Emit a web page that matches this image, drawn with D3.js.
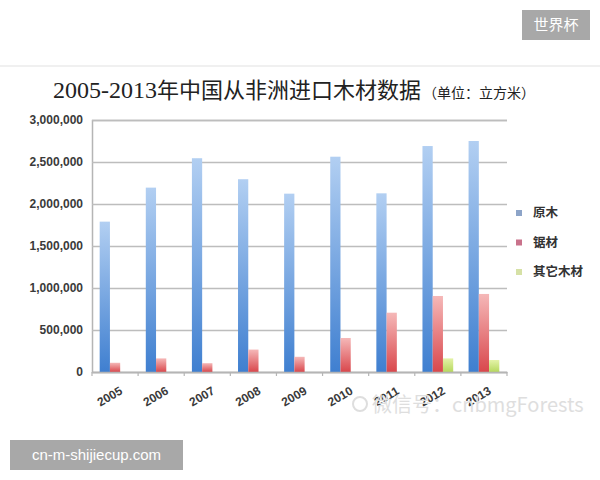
<!DOCTYPE html>
<html><head><meta charset="utf-8">
<script src="https://cdn.jsdelivr.net/npm/d3@7"></script>
<style>body{margin:0;background:#fff}svg{display:block}</style>
</head><body>
<svg id="c" width="600" height="480"></svg>
<script>
const years = ["2005","2006","2007","2008","2009","2010","2011","2012","2013"];
const seriesNames = ["原木","锯材","其它木材"];
const logs   = [1790000,2195000,2545000,2295000,2123000,2563000,2127000,2690000,2750000];
const sawn   = [110000,162000,105000,267000,181000,405000,706000,905000,929000];
const others = [0,0,0,0,0,0,0,162000,143000];
const yTicks = [0,500000,1000000,1500000,2000000,2500000,3000000];

const svg = d3.select("#c");
const L=92, R=507, T=120, B=372;
const x = d3.scaleBand().domain(years).range([L,R]);
const xs = d3.scaleBand().domain(seriesNames).range([0,x.bandwidth()]).paddingInner(0).paddingOuter(0.75);
const y = d3.scaleLinear().domain([0,3000000]).range([B,T]);

const defs = svg.append("defs");
const grads = [["gb","#b2cff2","#3f7fd0"],["gr","#f5b8b8","#d9474c"],["gg","#e4f3a8","#b6d85e"]];
grads.forEach(([id,c1,c2])=>{
  const g=defs.append("linearGradient").attr("id",id).attr("x1",0).attr("y1",0).attr("x2",0).attr("y2",1);
  g.append("stop").attr("offset","0%").attr("stop-color",c1);
  g.append("stop").attr("offset","100%").attr("stop-color",c2);
});

// faint photo edge
svg.append("line").attr("x1",0).attr("x2",600).attr("y1",66).attr("y2",66).attr("stroke","#f0f0f0").attr("stroke-width",2);

// title
const title = svg.append("text").attr("x",53).attr("y",98).attr("fill","#222");
title.append("tspan").attr("font-family","Liberation Serif, DejaVu Serif, serif").attr("font-size",24).text("2005-2013");
title.append("tspan").attr("font-family","Noto Sans CJK SC").attr("font-size",22).text("年中国从非洲进口木材数据");
title.append("tspan").attr("font-family","Noto Sans CJK SC").attr("font-size",14).attr("dx",2).text("（单位：立方米）");

// grid
const yAxis = d3.axisLeft(y).tickValues(yTicks).tickSize(-(R-L)).tickFormat(d3.format(","));
const ga = svg.append("g").attr("transform",`translate(${L},0)`).call(yAxis);
ga.select(".domain").attr("stroke","#b5b5b5").attr("stroke-width",1.5);
ga.selectAll(".tick line").attr("stroke","#bdbdbd").attr("stroke-width",1.5);
ga.selectAll(".tick text").attr("x",-9).attr("font-family","Liberation Sans, Arial, sans-serif")
  .attr("font-size",12).attr("font-weight","bold").attr("fill","#3a3a3a");

// bars
const data = [logs,sawn,others];
const fills = ["url(#gb)","url(#gr)","url(#gg)"];
seriesNames.forEach((s,si)=>{
  svg.append("g").selectAll("rect").data(years).join("rect")
    .attr("x",d=>x(d)+xs(s)).attr("width",xs.bandwidth())
    .attr("y",(d,i)=>y(data[si][i])).attr("height",(d,i)=>B-y(data[si][i]))
    .attr("fill",fills[si]);
});

// x axis
const xAxis = d3.axisBottom(x).tickSize(0).tickSizeOuter(0);
const gx = svg.append("g").attr("transform",`translate(0,${B})`).call(xAxis);
gx.select(".domain").attr("stroke","#b5b5b5").attr("stroke-width",1.5);
gx.selectAll(".tick text").attr("font-family","Liberation Sans, Arial, sans-serif").attr("font-size",12)
  .attr("font-weight","bold").attr("fill","#3a3a3a")
  .attr("text-anchor","end").attr("transform","translate(4,14) rotate(-30)").attr("dy","0.7em").attr("y",0).attr("x",0);
// category separators
svg.append("g").selectAll("line").data(years.concat(["end"])).join("line")
  .attr("x1",(d,i)=>L+i*x.step()).attr("x2",(d,i)=>L+i*x.step())
  .attr("y1",B).attr("y2",B+4).attr("stroke","#b5b5b5").attr("stroke-width",1.2);

// legend
const legCols = ["#8da4c8","#c9728b","#d6e1a6"];
const lg = svg.append("g").selectAll("g").data(seriesNames).join("g")
  .attr("transform",(d,i)=>`translate(516,${213+i*29.5})`);
lg.append("rect").attr("x",0).attr("y",-3).attr("width",6).attr("height",6).attr("fill",(d,i)=>legCols[i]);
lg.append("text").attr("x",17).attr("y",0).attr("dy","0.35em").attr("font-family","Noto Sans CJK SC")
  .attr("font-size",12.5).attr("font-weight","bold").attr("fill","#333").text(d=>d);

// watermark
svg.append("text").attr("x",372).attr("y",412).attr("font-family","Noto Sans CJK SC").attr("font-size",20)
  .attr("fill","#dedede").text("微信号：cnbmgForests");
svg.append("circle").attr("cx",360).attr("cy",404).attr("r",7).attr("fill","none").attr("stroke","#dedede").attr("stroke-width",2);

// overlays
svg.append("rect").attr("x",522).attr("y",10).attr("width",68).attr("height",30).attr("fill","#a8a8a8");
svg.append("text").attr("x",556).attr("y",25).attr("dy","0.36em").attr("text-anchor","middle")
  .attr("font-family","Noto Sans CJK SC").attr("font-size",15).attr("fill","#fff").text("世界杯");
svg.append("rect").attr("x",10).attr("y",440).attr("width",173).attr("height",30).attr("fill","#a8a8a8");
svg.append("text").attr("x",96.5).attr("y",455).attr("dy","0.36em").attr("text-anchor","middle")
  .attr("font-family","Liberation Sans, Arial, sans-serif").attr("font-size",15).attr("fill","#fff").text("cn-m-shijiecup.com");
</script>
</body></html>
